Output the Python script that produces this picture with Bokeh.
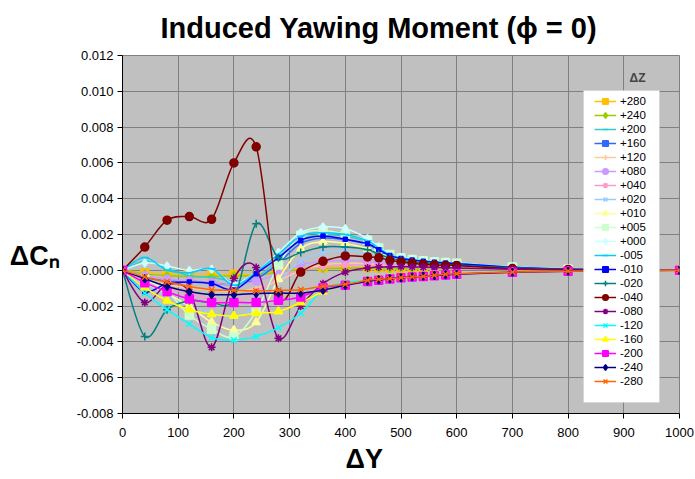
import numpy as np
from bokeh.plotting import figure
from bokeh.models import (Range1d, FixedTicker, NumeralTickFormatter, Label, Title,
                          Legend, LegendItem, BoxAnnotation)
from bokeh.embed import file_html
from bokeh.resources import INLINE

# ---------------- data (values in units of 1e-3 for readability) ----------------
dY = [0, 40, 80, 120, 160, 200, 240, 280, 320, 360, 400, 440, 460, 480, 500,
      520, 540, 560, 580, 600, 700, 800, 1000]

dz_labels = ["+280", "+240", "+200", "+160", "+120", "+080", "+040", "+020",
             "+010", "+005", "+000", "-005", "-010", "-020", "-040", "-080",
             "-120", "-160", "-200", "-240", "-280"]

cn_p280 = [0, -0.15, -0.2, -0.2, -0.25, -0.22, -0.25, 0.0, 0.1, 0.15, 0.15, 0.15, 0.14, 0.13, 0.12, 0.11, 0.1, 0.09, 0.08, 0.08, 0.04, 0.02, 0]
cn_p240 = [0, -0.2, -0.3, -0.35, -0.35, -0.3, -0.3, -0.1, 0.05, 0.1, 0.12, 0.12, 0.11, 0.1, 0.1, 0.09, 0.08, 0.08, 0.07, 0.07, 0.03, 0.01, 0]
cn_p200 = [0, 0.5, 0.1, -0.3, -0.4, -0.6, -0.4, 0.6, 1.7, 2.0, 1.9, 1.6, 1.2, 0.85, 0.68, 0.58, 0.5, 0.45, 0.4, 0.36, 0.17, 0.06, 0]
cn_p160 = [0, -0.4, -0.6, -0.6, -0.7, -0.8, -0.5, 0.4, 1.5, 1.8, 1.7, 1.45, 1.1, 0.8, 0.64, 0.55, 0.48, 0.43, 0.39, 0.35, 0.16, 0.06, 0]
cn_p120 = [0, -0.5, -0.8, -1.0, -1.1, -1.2, -1.0, -0.6, 0.0, 0.3, 0.4, 0.35, 0.3, 0.26, 0.23, 0.2, 0.18, 0.16, 0.14, 0.12, 0.06, 0.03, 0]
cn_p080 = [0, -0.3, -0.5, -0.6, -0.7, -0.8, -0.6, -0.2, 0.3, 0.5, 0.55, 0.5, 0.42, 0.35, 0.3, 0.26, 0.23, 0.2, 0.18, 0.16, 0.08, 0.03, 0]
cn_p040 = [0, -0.6, -1.0, -1.3, -1.6, -1.8, -1.2, -0.4, 0.0, 0.2, 0.3, 0.28, 0.25, 0.22, 0.2, 0.18, 0.16, 0.14, 0.12, 0.1, 0.05, 0.02, 0]
cn_p020 = [0, -0.8, -1.4, -2.0, -2.4, -2.6, -2.0, -0.6, 0.5, 1.0, 1.1, 0.9, 0.7, 0.55, 0.45, 0.4, 0.35, 0.31, 0.28, 0.25, 0.12, 0.05, 0]
cn_p010 = [0, -0.7, -1.3, -2.0, -2.9, -3.35, -2.9, -0.5, 1.2, 1.6, 1.5, 1.2, 0.95, 0.75, 0.6, 0.52, 0.46, 0.41, 0.37, 0.33, 0.16, 0.06, 0]
cn_p005 = [0, -0.5, -1.2, -2.5, -3.3, -3.7, -2.3, 0.3, 1.96, 2.23, 2.0, 1.68, 1.25, 0.88, 0.7, 0.6, 0.53, 0.48, 0.43, 0.39, 0.18, 0.07, 0]
cn_p000 = [0, 0.41, 0.24, 0.0, 0.06, -0.74, -0.1, 1.0, 2.1, 2.42, 2.33, 1.77, 1.3, 0.88, 0.72, 0.62, 0.55, 0.5, 0.45, 0.41, 0.2, 0.08, 0]
cn_m005 = [0, 0.71, 0.0, -0.13, 0.09, -0.84, -0.1, 0.9, 1.9, 2.1, 2.0, 1.65, 1.25, 0.86, 0.69, 0.6, 0.53, 0.48, 0.43, 0.39, 0.18, 0.07, 0]
cn_m010 = [0, -1.2, -0.74, -0.65, -0.74, -1.1, -0.19, 0.7, 1.68, 1.92, 1.73, 1.49, 1.15, 0.82, 0.66, 0.57, 0.5, 0.45, 0.41, 0.37, 0.17, 0.06, 0]
cn_m020 = [0, -3.7, -2.2, -1.7, -1.8, -1.6, 2.6, 0.7, 1.0, 1.3, 1.3, 1.15, 0.9, 0.7, 0.56, 0.48, 0.42, 0.38, 0.34, 0.3, 0.14, 0.05, 0]
cn_m040 = [0, 1.3, 2.8, 3.0, 2.85, 6.0, 6.9, -1.3, -0.1, 0.5, 0.8, 0.75, 0.7, 0.56, 0.47, 0.4, 0.34, 0.3, 0.27, 0.27, 0.1, 0.05, 0]
cn_m080 = [0, -1.8, -0.8, -1.2, -4.3, -0.45, 0.15, -3.8, -2.0, -0.75, -0.1, 0.13, 0.18, 0.2, 0.2, 0.19, 0.18, 0.16, 0.14, 0.13, 0.06, 0.02, 0]
cn_m120 = [0, -1.27, -2.2, -3.0, -3.76, -3.9, -3.7, -3.2, -2.4, -1.1, -0.7, -0.56, -0.5, -0.45, -0.4, -0.36, -0.33, -0.28, -0.24, -0.2, -0.1, -0.05, 0]
cn_m160 = [0, -0.97, -1.7, -2.2, -2.45, -2.55, -2.4, -2.3, -1.8, -1.2, -0.8, -0.6, -0.52, -0.46, -0.41, -0.37, -0.33, -0.29, -0.25, -0.21, -0.1, -0.05, 0]
cn_m200 = [0, -0.69, -1.2, -1.6, -1.8, -1.8, -1.8, -1.68, -1.49, -0.97, -0.84, -0.62, -0.55, -0.48, -0.42, -0.38, -0.34, -0.3, -0.26, -0.22, -0.11, -0.05, 0]
cn_m240 = [0, -0.47, -0.9, -1.2, -1.36, -1.36, -1.3, -1.27, -1.27, -1.1, -0.84, -0.6, -0.53, -0.47, -0.42, -0.37, -0.33, -0.29, -0.25, -0.21, -0.1, -0.05, 0]
cn_m280 = [0, -0.37, -0.65, -0.9, -1.08, -1.12, -1.15, -1.12, -1.08, -0.9, -0.78, -0.56, -0.5, -0.47, -0.41, -0.37, -0.34, -0.28, -0.22, -0.19, -0.1, -0.05, 0]

series = [cn_p280, cn_p240, cn_p200, cn_p160, cn_p120, cn_p080, cn_p040, cn_p020,
          cn_p010, cn_p005, cn_p000, cn_m005, cn_m010, cn_m020, cn_m040, cn_m080,
          cn_m120, cn_m160, cn_m200, cn_m240, cn_m280]

y_ticks = [-0.008, -0.006, -0.004, -0.002, 0.0, 0.002, 0.004, 0.006, 0.008, 0.010, 0.012]
x_ticks = [0, 100, 200, 300, 400, 500, 600, 700, 800, 900, 1000]

# ---------------- styles ----------------
colors = ["#FFC000", "#99CC00", "#33CCCC", "#3366FF", "#FFCC99", "#CC99FF", "#FF99CC",
          "#99CCFF", "#FFFF99", "#CCFFCC", "#CCFFFF", "#00CCFF", "#0000FF", "#008080",
          "#800000", "#800080", "#00FFFF", "#FFFF00", "#FF00FF", "#000080", "#FF6600"]
markers = ["square", "diamond", "dash", "square", "cross", "circle", "asterisk", "x",
           "triangle", "square", "diamond", "dash", "square", "cross", "circle", "asterisk",
           "x", "triangle", "square", "diamond", "x"]
msizes = [8, 8, 8, 4, 8, 8, 8, 8, 8, 8, 8, 8, 4, 8, 8, 8, 8, 8, 8, 8, 8]
filled = [True, True, False, True, False, True, False, False, True, True, True, False,
          True, False, True, False, False, True, True, True, False]

FL, FR, FT, FB = 122, 679, 55, 413
W, H = 695, 479
XMIN, XMAX, YMIN, YMAX = 0, 1000, -0.008, 0.012


def dx(px):
    return XMIN + (px - FL) / (FR - FL) * (XMAX - XMIN)


def dy(py):
    return YMIN + (FB - py) / (FB - FT) * (YMAX - YMIN)


p = figure(width=W, height=H, output_backend="svg", toolbar_location=None,
           x_range=Range1d(XMIN, XMAX), y_range=Range1d(YMIN, YMAX),
           min_border_left=FL, min_border_right=W - FR,
           min_border_top=FT, min_border_bottom=H - FB)
p.background_fill_color = "#C0C0C0"
p.border_fill_color = "white"
p.outline_line_color = "#808080"
p.grid.grid_line_color = "#808080"
p.grid.grid_line_width = 1
p.xaxis.ticker = FixedTicker(ticks=x_ticks)
p.yaxis.ticker = FixedTicker(ticks=y_ticks)
p.yaxis.formatter = NumeralTickFormatter(format="0.000")
for ax in (p.xaxis[0], p.yaxis[0]):
    ax.axis_line_color = "#000000"
    ax.major_tick_line_color = "#000000"
    ax.major_tick_out = 5
    ax.major_tick_in = 0
    ax.minor_tick_line_color = None
    ax.major_label_text_font = "Liberation Sans"
    ax.major_label_text_font_size = "13px"
    ax.major_label_text_color = "#000000"
p.xaxis.major_label_standoff = 9
p.yaxis.major_label_standoff = 4

# y axis title, horizontal, shifted down by an empty leading line
yax = p.yaxis[0]
yax.axis_label = "\n\u0394C\u2099"
yax.axis_label_text_font = "Liberation Sans"
yax.axis_label_text_font_style = "bold"
yax.axis_label_text_font_size = "27px"
yax.axis_label_text_color = "#000000"
yax.axis_label_text_line_height = 1.4
yax.axis_label_standoff = 14
if "axis_label_orientation" in yax.properties():
    yax.axis_label_orientation = "horizontal"

items = []
xs = np.array(dY, dtype=float)
n = len(dY)
for lab, vals, c, m, s, f in zip(dz_labels, series, colors, markers, msizes, filled):
    ys = np.array(vals) * 1e-3
    x0, y0, x1, y1, cx0, cy0, cx1, cy1 = [], [], [], [], [], [], [], []
    for i in range(n - 1):
        a = i - 1 if i > 0 else i
        b = i + 2 if i + 2 < n else i + 1
        x0.append(xs[i]); y0.append(ys[i]); x1.append(xs[i + 1]); y1.append(ys[i + 1])
        cx0.append(xs[i] + (xs[i + 1] - xs[a]) / 6.0)
        cy0.append(ys[i] + (ys[i + 1] - ys[a]) / 6.0)
        cx1.append(xs[i + 1] - (xs[b] - xs[i]) / 6.0)
        cy1.append(ys[i + 1] - (ys[b] - ys[i]) / 6.0)
    bz = p.bezier(x0=x0, y0=y0, x1=x1, y1=y1, cx0=cx0, cy0=cy0, cx1=cx1, cy1=cy1,
                  line_color=c, line_width=1.5)
    sc = p.scatter(xs, ys, marker=m, size=s, line_color=c, line_width=1.5,
                   fill_color=c if f else None)
    items.append(LegendItem(label=lab, renderers=[bz, sc]))

# white legend box
box = BoxAnnotation(left=dx(583), right=dx(659), top=dy(90), bottom=dy(402),
                    fill_color="white", fill_alpha=1.0, line_color="#C0C0C0")
p.add_layout(box)

legend = Legend(items=items, location=(594 - FL, FB - 388), orientation="vertical",
                background_fill_alpha=0, border_line_color=None,
                padding=3, margin=0, spacing=0, glyph_width=22, glyph_height=14,
                label_height=14, label_standoff=4, label_text_color="#000000",
                label_text_font="Liberation Sans", label_text_font_size="11.5px")
p.add_layout(legend)

p.add_layout(Label(x=dx(637), y=dy(77), text="\u0394Z", text_align="center",
                   text_baseline="middle", text_font="Liberation Sans",
                   text_font_style="bold", text_font_size="12px"))

# titles
p.add_layout(Title(text="Induced Yawing Moment (\u03d5 = 0)", align="left", offset=38,
                   standoff=20, vertical_align="top", text_font="Liberation Sans",
                   text_font_style="bold", text_font_size="29px",
                   text_color="#000000"), "above")
p.add_layout(Title(text="\u0394Y", align="left", offset=223, standoff=4,
                   text_font="Liberation Sans", text_font_style="bold",
                   text_font_size="27px", text_color="#000000"), "below")

open("out.html", "w").write(file_html(p, INLINE))
